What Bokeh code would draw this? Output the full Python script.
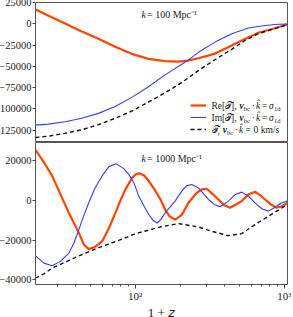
from bokeh.plotting import figure
from bokeh.models import Range1d, FixedTicker, Legend, LegendItem, Label
from bokeh.layouts import column
from bokeh.embed import file_html
from bokeh.resources import INLINE

# ---------------- data ----------------
# top panel: k = 100 Mpc^-1
top_red_x = [21.5, 26.3, 34.0, 41.7, 56.8, 73.5, 95.0, 122.8, 158.8, 195.1, 225.0, 265.5, 343.5, 444.0, 518.0, 670.0, 866.0, 1042.0]
top_red_y = [16900, 9400, 400, -7300, -17700, -27000, -35300, -41200, -43800, -44400, -43200, -40500, -35000, -25500, -19500, -10500, -5300, -800]

top_blue_x = [21.5, 26.3, 34.0, 43.9, 56.8, 73.5, 95.0, 122.8, 158.8, 205.4, 225.0, 265.5, 343.5, 444.0, 574.0, 742.0, 912.0, 1042.0]
top_blue_y = [-119000, -117800, -115000, -111000, -105200, -97000, -86400, -74000, -60000, -47500, -43200, -33500, -21500, -11700, -5000, -2000, -500, -400]

top_black_x = [21.5, 26.3, 34.0, 43.9, 56.8, 73.5, 95.0, 122.8, 158.8, 205.4, 265.5, 343.5, 444.0, 545.0, 670.0, 866.0, 1042.0]
top_black_y = [-133500, -132000, -128500, -124500, -118500, -111000, -102500, -92000, -81000, -69000, -55000, -42000, -30000, -19500, -11500, -5500, -1200]

# bottom panel: k = 1000 Mpc^-1
bot_red_x = [21.5, 24.5, 27.8, 31.6, 36.0, 42.0, 45.3, 48.9, 54.0, 60.1, 66.6, 73.8, 80.2, 86.1, 95.5, 101.0, 106.9, 114.9, 123.5, 134.8, 147.8, 158.8, 169.8, 185.3, 205.4, 227.6, 258.8, 279.6, 302.0, 329.6, 361.5, 394.5, 432.7, 469.8, 518.0, 574.1, 636.3, 690.8, 742.1, 818.3, 888.6, 959.7, 1052.6]
bot_red_y = [25600, 19300, 12400, 3050, -6300, -16400, -22300, -24600, -23400, -20700, -14200, -6300, 500, 5600, 11500, 13200, 13700, 12600, 9800, 5600, 500, -4600, -8000, -9700, -7300, -1200, 3900, 5600, 5900, 3300, 500, -2300, -3700, -2200, -340, 3000, 4400, 2600, 500, -2200, -3700, -3000, -1200]

bot_blue_x = [21.5, 24.5, 27.8, 31.6, 36.0, 38.9, 42.0, 45.3, 48.9, 54.0, 60.1, 66.6, 74.6, 84.0, 90.7, 98.0, 105.8, 114.9, 123.5, 132.7, 140.4, 149.3, 158.8, 185.3, 205.4, 221.8, 239.6, 265.5, 309.8, 339.9, 370.9, 421.7, 469.8, 518.0, 574.1, 636.3, 705.1, 781.4, 857.0, 959.7, 1052.6]
bot_blue_y = [-28000, -31700, -33050, -30800, -26600, -21500, -14700, -7700, -1200, 6400, 12400, 17100, 18500, 16100, 13200, 9000, 2200, -2900, -7100, -10300, -11400, -9500, -6300, -340, 4700, 7500, 8100, 6400, 500, -2000, -3200, -340, 3050, 4200, 2200, -1200, -4200, -5400, -3700, -1200, -340]

bot_black_x = [21.5, 24.5, 27.8, 36.0, 46.5, 60.1, 77.7, 100.5, 147.8, 195.1, 265.5, 326.1, 421.7, 518.0, 636.3, 781.4, 1052.0]
bot_black_y = [-39300, -37100, -34200, -30300, -26600, -23200, -20200, -16800, -13400, -11700, -13400, -15600, -17800, -16800, -12200, -8000, -2000]

top_yticks = [25000, 0, -25000, -50000, -75000, -100000, -125000]
bot_yticks = [20000, 0, -20000, -40000]
x_major = [100, 1000]
x_major_labels = ["10²", "10³"]
x_minor = [30, 40, 50, 60, 70, 80, 90, 200, 300, 400, 500, 600, 700, 800, 900]

panel_titles = ["100", "1000"]

# ---------------- styling ----------------
SERIF = "Liberation Serif"
RED = "#ff4500"
BLUE = "#3c3cf2"
BLACK = "#111111"
TXT = "#222222"
FL, FW = 44, 252          # left border, frame width
TOP_H, BOT_H = 140, 142   # frame heights

x_range = Range1d(21.5, 1050)


def make_fig(yr, fh, with_xaxis, top_border, bottom_border):
    kw = dict(x_axis_type="log", x_range=x_range, y_range=yr,
              frame_width=FW, frame_height=fh,
              min_border_left=FL, min_border_right=4,
              min_border_top=top_border, min_border_bottom=bottom_border,
              output_backend="svg", toolbar_location=None)
    if not with_xaxis:
        kw["x_axis_location"] = None
    p = figure(**kw)
    p.xgrid.visible = False
    p.ygrid.visible = False
    p.outline_line_color = "#555555"
    p.outline_line_width = 1
    p.outline_line_alpha = 1
    p.background_fill_color = "white"
    p.border_fill_color = "white"
    ax = p.yaxis[0]
    ax.axis_line_color = None
    ax.major_tick_out = 3
    ax.major_tick_in = 0
    ax.minor_tick_out = 0
    ax.minor_tick_in = 0
    ax.major_tick_line_color = "#444444"
    ax.major_label_text_font = SERIF
    ax.major_label_text_font_size = "10.5px"
    ax.major_label_text_color = TXT
    ax.major_label_standoff = 1
    return p


def fmt(v):
    return ("−" + str(-v)) if v < 0 else str(v)


def piece(p, frame_bottom, text, px, py, size, style="normal"):
    p.add_layout(Label(x=x_range.start, y=p.y_range.start,
                       x_offset=px - 37, y_offset=frame_bottom - py,
                       text=text, text_font=SERIF, text_font_size=f"{size}px",
                       text_font_style=style, text_baseline="middle",
                       text_align="left", text_color=TXT))


# ---------------- top panel ----------------
p1 = make_fig(Range1d(-139400, 25000), TOP_H, False, 5, 0)
p1.yaxis.ticker = FixedTicker(ticks=top_yticks)
p1.yaxis.major_label_overrides = {v: fmt(v) for v in top_yticks}

r1 = p1.line(top_red_x, top_red_y, line_color=RED, line_width=2.2)
b1 = p1.line(top_blue_x, top_blue_y, line_color=BLUE, line_width=1.1)
k1 = p1.line(top_black_x, top_black_y, line_color=BLACK, line_width=1.4, line_dash="4 3")

legend = Legend(items=[LegendItem(label=" ", renderers=[r1]),
                       LegendItem(label=" ", renderers=[b1]),
                       LegendItem(label=" ", renderers=[k1])],
                location=(155, 7), glyph_width=16, glyph_height=12,
                label_height=12, label_width=0, label_standoff=0,
                label_text_font_size="8px", spacing=0, padding=0, margin=0,
                border_line_color=None, background_fill_alpha=0)
p1.add_layout(legend)

FB1 = 144
rows = [107.5, 119.5, 131.5]
# row 1 and 2
for yy, head in ((rows[0], "Re["), (rows[1], "Im[")):
    piece(p1, FB1, head, 213, yy, 9.5)
    piece(p1, FB1, "𝒯", 226.5, yy, 9.5)
    piece(p1, FB1, "],", 232.5, yy, 9.5)
    piece(p1, FB1, "v", 241, yy, 9.5, "bold italic")
    piece(p1, FB1, "bc", 245.3, yy + 2.5, 6.5)
    piece(p1, FB1, "·", 253.3, yy, 9.5)
    piece(p1, FB1, "k\u0302", 257.5, yy, 9.5, "italic")
    piece(p1, FB1, "=", 263.5, yy, 9.5)
    piece(p1, FB1, "σ", 270.6, yy, 9.5, "italic")
    piece(p1, FB1, "1d", 275.6, yy + 2.5, 6.5)
# row 3
yy = rows[2]
piece(p1, FB1, "𝒯", 213, yy, 9.5)
piece(p1, FB1, ",", 219, yy, 9.5)
piece(p1, FB1, "v", 224.3, yy, 9.5, "bold italic")
piece(p1, FB1, "bc", 228.5, yy + 2.5, 6.5)
piece(p1, FB1, "·", 236.3, yy, 9.5)
piece(p1, FB1, "k\u0302", 240.5, yy, 9.5, "italic")
piece(p1, FB1, "=", 247, yy, 9.5)
piece(p1, FB1, "0 km/s", 255, yy, 9.5)

piece(p1, FB1, "k", 143, 15.5, 10, "italic")
piece(p1, FB1, " = " + panel_titles[0] + " Mpc⁻¹", 148.5, 15.5, 10)

# ---------------- bottom panel ----------------
p2 = make_fig(Range1d(-42500, 29300), BOT_H, True, 0, 28)
p2.yaxis.ticker = FixedTicker(ticks=bot_yticks)
p2.yaxis.major_label_overrides = {v: fmt(v) for v in bot_yticks}

p2.line(bot_red_x, bot_red_y, line_color=RED, line_width=2.2)
p2.line(bot_blue_x, bot_blue_y, line_color=BLUE, line_width=1.1)
p2.line(bot_black_x, bot_black_y, line_color=BLACK, line_width=1.4, line_dash="4 3")

xa = p2.xaxis[0]
xa.ticker = FixedTicker(ticks=x_major, minor_ticks=x_minor)
xa.major_label_overrides = dict(zip(x_major, x_major_labels))
xa.axis_line_color = None
xa.major_tick_out = 4
xa.major_tick_in = 0
xa.minor_tick_out = 2
xa.minor_tick_in = 0
xa.major_tick_line_color = "#444444"
xa.minor_tick_line_color = "#444444"
xa.major_label_text_font = SERIF
xa.major_label_text_font_size = "11px"
xa.major_label_text_color = TXT
xa.major_label_standoff = 1
xa.axis_label = "1 + 𝑧"
xa.axis_label_text_font = SERIF
xa.axis_label_text_font_style = "normal"
xa.axis_label_text_font_size = "13px"
xa.axis_label_text_color = TXT
xa.axis_label_standoff = 0

FB2 = 144 + BOT_H
piece(p2, FB2, "k", 143, 160, 10, "italic")
piece(p2, FB2, " = " + panel_titles[1] + " Mpc⁻¹", 148.5, 160, 10)

layout = column(p1, p2, spacing=0, margin=(-3, -8, -8, -9))

open("out.html", "w").write(file_html(layout, INLINE))
